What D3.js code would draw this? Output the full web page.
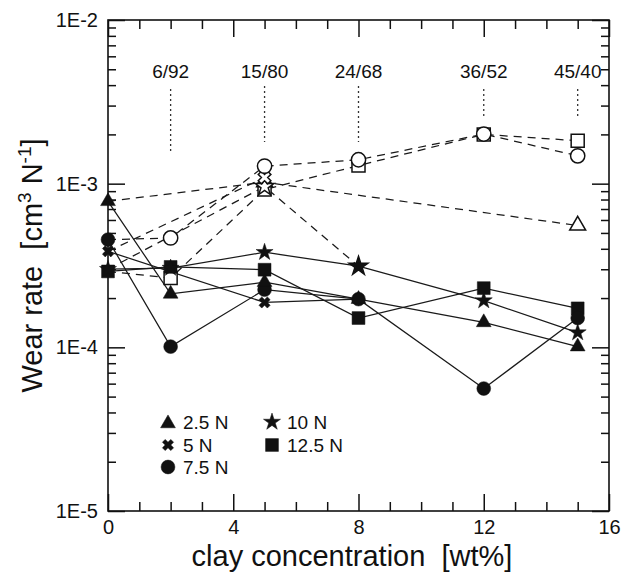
<!DOCTYPE html>
<html>
<head>
<meta charset="utf-8">
<script src="https://cdn.jsdelivr.net/npm/d3@7"></script>
<style>
  html, body { margin: 0; padding: 0; background: #fff; }
  svg { display: block; font-family: "Liberation Sans", Arial, Helvetica, sans-serif; }
</style>
</head>
<body>
<svg id="chart" width="641" height="575"></svg>
<script>
// Clay loading (wt%) of the tested composites
const clayWt = [0, 2, 5, 8, 12, 15];

// Wear rate [cm^3 N^-1] per normal load, filled symbols joined by solid lines
// (null = no measurement at that loading)
const wear25 = [7.8e-4, 2.12e-4, 2.5e-4, 1.97e-4, 1.42e-4, 1.01e-4];
const wear5 = [3.86e-4, null, 1.88e-4, 1.97e-4, null, null];
const wear75 = [4.55e-4, 1.01e-4, 2.25e-4, 1.97e-4, 5.6e-5, 1.51e-4];
const wear10 = [3.0e-4, 3.05e-4, 3.81e-4, 3.13e-4, 1.93e-4, 1.23e-4];
const wear125 = [2.91e-4, 3.1e-4, 2.98e-4, 1.51e-4, 2.3e-4, 1.73e-4];

// Second set, open symbols joined by dashed lines; the 0 wt% value is the shared neat matrix
const open25 = [7.8e-4, null, 1.02e-3, null, null, 5.55e-4];
const open5 = [3.86e-4, null, 1.09e-3, null, null, null];
const open75 = [4.55e-4, 4.66e-4, 1.28e-3, 1.40e-3, 2.01e-3, 1.48e-3];
const open10 = [3.0e-4, null, 0.96e-3, 3.13e-4, null, null];
const open125 = [2.91e-4, 2.65e-4, 0.92e-3, 1.29e-3, 2.0e-3, 1.83e-3];

// Load labels for the legend
const loadLabels = ["2.5 N", "5 N", "7.5 N", "10 N", "12.5 N"];

// Composition labels written above the data
const compLabels = ["6/92", "15/80", "24/68", "36/52", "45/40"];
const compClay = [2, 5, 8, 12, 15];

// Axis ticks
const xTickValues = [0, 4, 8, 12, 16];
const xTickLabels = ["0", "4", "8", "12", "16"];
const yTickValues = [1e-5, 1e-4, 1e-3, 1e-2];
const yTickLabels = ["1E-5", "1E-4", "1E-3", "1E-2"];

// ---------------------------------------------------------------------------
const svg = d3.select("#chart");
const L = 108, R = 609, T = 20, B = 511;

const x = d3.scaleLinear().domain([0, 16]).range([L, R]);
const y = d3.scaleLog().domain([1e-5, 1e-2]).range([B, T]);

const ink = "#111";

// ticks: major and minor, on all four sides, pointing inward
const xMinor = d3.range(0, 17).filter(v => !xTickValues.includes(v));
const yMinor = [];
for (let e = -5; e < -2; e++) for (let m = 2; m <= 9; m++) yMinor.push(m * Math.pow(10, e));

function styleAxis(g) {
  g.select(".domain").remove();
  g.selectAll(".tick line").attr("stroke", ink).attr("stroke-width", 1.5);
  g.selectAll(".tick text").attr("fill", ink).attr("font-size", 20)
    .attr("font-family", '"Liberation Sans", Arial, sans-serif');
}
function ticksOnly(g) {
  styleAxis(g);
  g.selectAll(".tick text").remove();
}

// bottom
svg.append("g").attr("transform", `translate(0,${B})`)
  .call(d3.axisBottom(x).tickValues(xTickValues).tickSizeInner(-17).tickSizeOuter(0)
    .tickPadding(9).tickFormat((d, i) => xTickLabels[i]))
  .call(styleAxis);
svg.append("g").attr("transform", `translate(0,${B})`)
  .call(d3.axisBottom(x).tickValues(xMinor).tickSizeInner(-9).tickSizeOuter(0))
  .call(ticksOnly);
// top
svg.append("g").attr("transform", `translate(0,${T})`)
  .call(d3.axisTop(x).tickValues(xTickValues).tickSizeInner(-17).tickSizeOuter(0))
  .call(ticksOnly);
svg.append("g").attr("transform", `translate(0,${T})`)
  .call(d3.axisTop(x).tickValues(xMinor).tickSizeInner(-9).tickSizeOuter(0))
  .call(ticksOnly);
// left
svg.append("g").attr("transform", `translate(${L},0)`)
  .call(d3.axisLeft(y).tickValues(yTickValues).tickSizeInner(-17).tickSizeOuter(0)
    .tickPadding(10).tickFormat((d, i) => yTickLabels[i]))
  .call(styleAxis);
svg.append("g").attr("transform", `translate(${L},0)`)
  .call(d3.axisLeft(y).tickValues(yMinor).tickSizeInner(-8).tickSizeOuter(0))
  .call(ticksOnly);
// right
svg.append("g").attr("transform", `translate(${R},0)`)
  .call(d3.axisRight(y).tickValues(yTickValues).tickSizeInner(-17).tickSizeOuter(0))
  .call(ticksOnly);
svg.append("g").attr("transform", `translate(${R},0)`)
  .call(d3.axisRight(y).tickValues(yMinor).tickSizeInner(-8).tickSizeOuter(0))
  .call(ticksOnly);

// frame
svg.append("rect").attr("x", L).attr("y", T).attr("width", R - L).attr("height", B - T)
  .attr("fill", "none").attr("stroke", ink).attr("stroke-width", 1.6);

// axis titles
svg.append("text")
  .attr("x", 352).attr("y", 566)
  .attr("text-anchor", "middle").attr("font-size", 29).attr("fill", ink)
  .style("white-space", "pre")
  .text("clay concentration  [wt%]");

const yTitle = svg.append("text")
  .attr("transform", `translate(42,${(T + B) / 2}) rotate(-90)`)
  .attr("text-anchor", "middle").attr("font-size", 29).attr("fill", ink)
  .style("white-space", "pre");
yTitle.append("tspan").text("Wear rate  [cm");
yTitle.append("tspan").attr("font-size", 19).attr("dy", -11).text("3");
yTitle.append("tspan").attr("dy", 11).text(" N");
yTitle.append("tspan").attr("font-size", 19).attr("dy", -11).text("-1");
yTitle.append("tspan").attr("dy", 11).text("]");

// composition labels with dotted leaders
const leaderTop = [89, 86, 86, 89, 89];
const leaderBottom = [154, 142, 142, 119, 119];
compLabels.forEach((lab, i) => {
  svg.append("text")
    .attr("x", x(compClay[i])).attr("y", 78)
    .attr("text-anchor", "middle").attr("font-size", 19).attr("fill", ink)
    .text(lab);
  svg.append("line")
    .attr("x1", x(compClay[i])).attr("x2", x(compClay[i]))
    .attr("y1", leaderTop[i]).attr("y2", leaderBottom[i])
    .attr("stroke", "#333").attr("stroke-width", 1.3).attr("stroke-dasharray", "2,3");
});

// symbols
const shapes = {
  tri: { type: d3.symbolTriangle, size: 95, openSize: 110, rot: 0 },
  cross: { type: d3.symbolCross, size: 78, openSize: 100, rot: 45 },
  circle: { type: d3.symbolCircle, size: 150, openSize: 160, rot: 0 },
  star: { type: d3.symbolStar, size: 90, openSize: 110, rot: 0 },
  square: { type: d3.symbolSquare, size: 165, openSize: 170, rot: 0 }
};

const solidSeries = [
  { label: loadLabels[0], shape: "tri", vals: wear25 },
  { label: loadLabels[1], shape: "cross", vals: wear5 },
  { label: loadLabels[2], shape: "circle", vals: wear75 },
  { label: loadLabels[3], shape: "star", vals: wear10 },
  { label: loadLabels[4], shape: "square", vals: wear125 }
];
const openSeries = [
  { shape: "square", vals: open125 },
  { shape: "tri", vals: open25 },
  { shape: "star", vals: open10 },
  { shape: "cross", vals: open5 },
  { shape: "circle", vals: open75 }
];

const pts = vals => clayWt.map((c, i) => ({ c, v: vals[i], i })).filter(p => p.v != null);
const line = d3.line().x(p => x(p.c)).y(p => y(p.v));

// dashed lines
openSeries.forEach(s => {
  svg.append("path").attr("d", line(pts(s.vals)))
    .attr("fill", "none").attr("stroke", "#1a1a1a").attr("stroke-width", 1.25)
    .attr("stroke-dasharray", "8,6");
});
// solid lines
solidSeries.forEach(s => {
  svg.append("path").attr("d", line(pts(s.vals)))
    .attr("fill", "none").attr("stroke", "#1a1a1a").attr("stroke-width", 1.25);
});

function marker(g, shape, cx, cy, open) {
  const sh = shapes[shape];
  const gen = d3.symbol(sh.type, open ? sh.openSize : sh.size);
  return g.append("path")
    .attr("d", gen())
    .attr("transform", `translate(${cx},${cy}) rotate(${sh.rot})`)
    .attr("fill", open ? "#fff" : ink)
    .attr("stroke", ink)
    .attr("stroke-width", open ? 1.5 : 0.5);
}

// open markers (0 wt% point is drawn by the filled set)
const gOpen = svg.append("g");
openSeries.forEach(s => {
  pts(s.vals).filter(p => p.i > 0).forEach(p => marker(gOpen, s.shape, x(p.c), y(p.v), true));
});
// filled markers
const gFilled = svg.append("g");
solidSeries.slice().reverse().forEach(s => {
  pts(s.vals).forEach(p => marker(gFilled, s.shape, x(p.c), y(p.v), false));
});

// legend
const legend = svg.append("g");
const legendCols = [168, 272], legendRows = [422, 445, 467];
solidSeries.forEach((s, k) => {
  const col = k < 3 ? 0 : 1, row = k < 3 ? k : k - 3;
  const lx = legendCols[col], ly = legendRows[row];
  marker(legend, s.shape, lx, ly + (s.shape === "tri" ? 1.5 : 0), false);
  legend.append("text")
    .attr("x", lx + 15).attr("y", ly + 7)
    .attr("font-size", 19).attr("fill", ink)
    .text(s.label);
});
</script>
</body>
</html>
